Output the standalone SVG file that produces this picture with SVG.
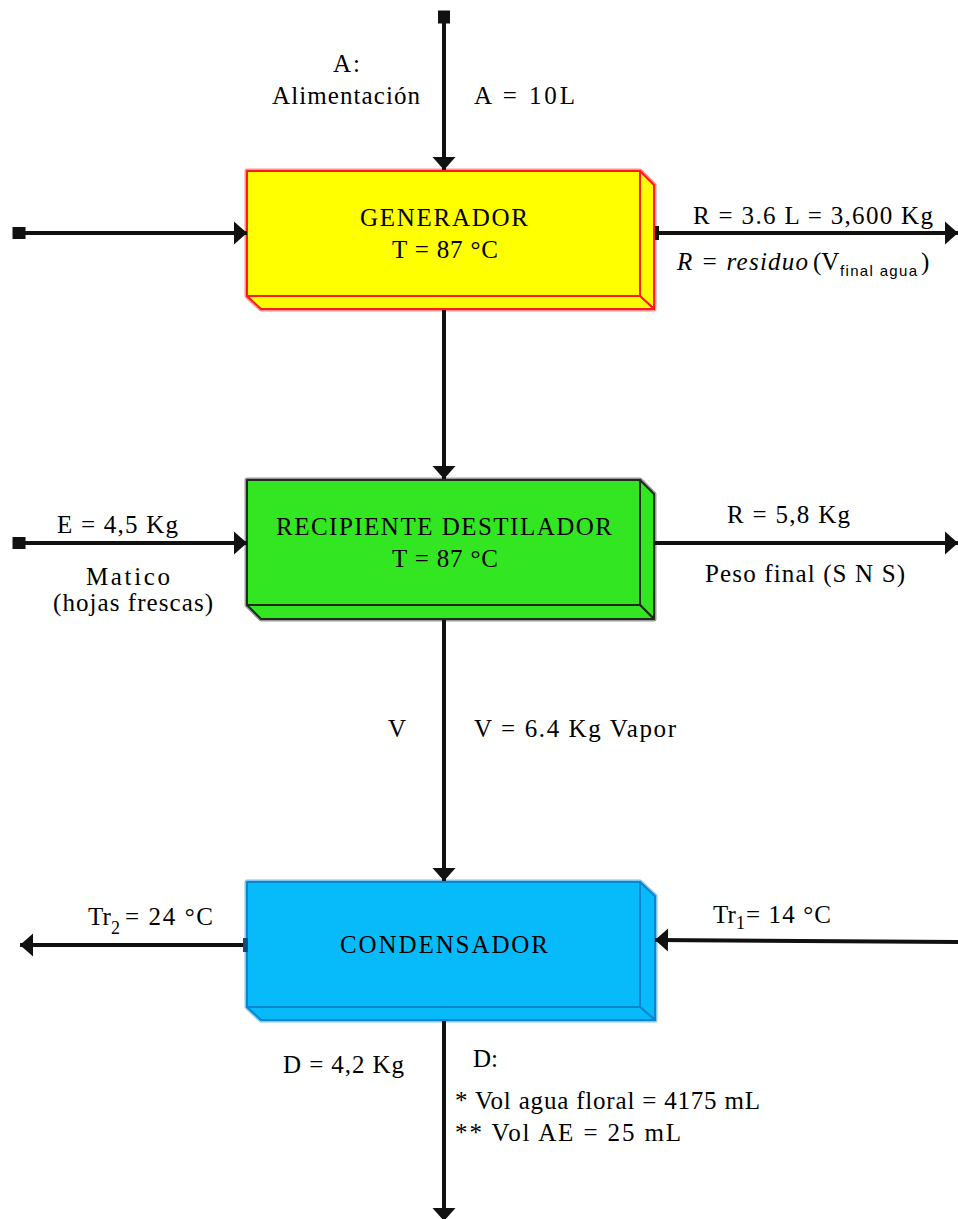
<svg xmlns="http://www.w3.org/2000/svg" width="958" height="1219" viewBox="0 0 958 1219">
<style>
.t{font-family:"Liberation Serif","DejaVu Serif","Times New Roman",serif;font-size:25px;fill:#000}
.sans{font-family:"Liberation Sans",Arial,sans-serif;font-size:15px}
.it{font-style:italic}
.conn{stroke:#111;stroke-width:4;fill:none}
.gen{fill:#FFFF00;stroke:#FF1A1A;stroke-width:2;stroke-linejoin:round}
.genh{fill:none;stroke:#FF9090;stroke-width:5;stroke-linejoin:round}
.rec{fill:#33E622;stroke:#1E2A1E;stroke-width:2;stroke-linejoin:round}
.rech{fill:none;stroke:#9A9A9A;stroke-width:5;stroke-linejoin:round}
.con{fill:#07BBFB;stroke:#0A86CF;stroke-width:2;stroke-linejoin:round}
.conh{fill:none;stroke:#7FC8F0;stroke-width:5;stroke-linejoin:round}
</style>
<defs>
<marker id="ah" markerUnits="userSpaceOnUse" markerWidth="14" markerHeight="24" refX="13" refY="11.5" orient="auto" overflow="visible">
<path d="M0,0 L13,11.5 L0,23 Z" fill="#111"/>
</marker>
<marker id="sq" markerUnits="userSpaceOnUse" markerWidth="13" markerHeight="13" refX="6.5" refY="6" orient="auto" overflow="visible">
<rect x="0" y="0" width="13" height="12" fill="#111"/>
</marker>
</defs>

<g id="generador" font-family="Liberation Serif, DejaVu Serif, serif" font-size="25">
<path class="genh" d="M247,171 H640 L654,185 V309 H261 L247,296 Z"/>
<path class="gen" d="M640,171 L654,185 V309 L640,296 Z"/>
<path class="gen" d="M247,296 H640 L654,309 H261 Z"/>
<rect class="gen" x="247" y="171" width="393" height="125"/>
<text class="t" x="360" y="226" textLength="168" lengthAdjust="spacing">GENERADOR</text>
<text class="t" x="392" y="258" textLength="106" lengthAdjust="spacing">T = 87 °C</text>
</g>

<g id="recipiente" font-family="Liberation Serif, DejaVu Serif, serif" font-size="25">
<path class="rech" d="M247,480 H640 L654,494 V619 H261 L247,605 Z"/>
<path class="rec" d="M640,480 L654,494 V619 L640,605 Z"/>
<path class="rec" d="M247,605 H640 L654,619 H261 Z"/>
<rect class="rec" x="247" y="480" width="393" height="125"/>
<text class="t" x="276" y="535" textLength="336" lengthAdjust="spacing">RECIPIENTE DESTILADOR</text>
<text class="t" x="392" y="567" textLength="106" lengthAdjust="spacing">T = 87 °C</text>
</g>

<g id="condensador" font-family="Liberation Serif, DejaVu Serif, serif" font-size="25">
<path class="conh" d="M247,882 H640 L655,896 V1020 H261 L247,1007 Z"/>
<path class="con" d="M640,882 L655,896 V1020 L640,1007 Z"/>
<path class="con" d="M247,1007 H640 L655,1020 H261 Z"/>
<rect class="con" x="247" y="882" width="393" height="125"/>
<text class="t" x="340" y="953" textLength="208" lengthAdjust="spacing">CONDENSADOR</text>
</g>

<g id="connectors">
<path class="conn" d="M444,17 V170" marker-start="url(#sq)" marker-end="url(#ah)"/>
<path class="conn" d="M19,233 H247" marker-start="url(#sq)" marker-end="url(#ah)"/>
<path class="conn" d="M656,233 H958" marker-end="url(#ah)"/>
<rect x="655" y="226" width="4" height="14" fill="#111"/>
<path class="conn" d="M444,310 V479" marker-end="url(#ah)"/>
<path class="conn" d="M19,543 H247" marker-start="url(#sq)" marker-end="url(#ah)"/>
<path class="conn" d="M655,543 H958" marker-end="url(#ah)"/>
<path class="conn" d="M444,620 V881" marker-end="url(#ah)"/>
<path class="conn" d="M246,945 H20" marker-end="url(#ah)"/>
<rect x="243" y="938" width="5" height="14" fill="#0A4F80"/>
<path class="conn" d="M958,942 L655,940" marker-end="url(#ah)"/>
<path class="conn" d="M444,1021 V1221" marker-end="url(#ah)"/>
</g>

<g id="labels" font-family="Liberation Serif, DejaVu Serif, serif" font-size="25">
<text class="t" x="333" y="72" textLength="27" lengthAdjust="spacing">A:</text>
<text class="t" x="272" y="104" textLength="148" lengthAdjust="spacing">Alimentación</text>
<text class="t" x="474" y="104" textLength="101" lengthAdjust="spacing">A = 10L</text>
<text class="t" x="693" y="224" textLength="240" lengthAdjust="spacing">R = 3.6 L = 3,600 Kg</text>
<text class="t" y="270"><tspan x="677" class="it" textLength="131" lengthAdjust="spacing">R = residuo</tspan><tspan x="813">(V</tspan><tspan x="840" y="276" class="sans" textLength="77" lengthAdjust="spacing">final agua</tspan><tspan x="921" y="270">)</tspan></text>
<text class="t" x="57" y="533" textLength="121" lengthAdjust="spacing">E = 4,5 Kg</text>
<text class="t" x="86" y="585" textLength="84" lengthAdjust="spacing">Matico</text>
<text class="t" x="53" y="611" textLength="160" lengthAdjust="spacing">(hojas frescas)</text>
<text class="t" x="727" y="523" textLength="123" lengthAdjust="spacing">R = 5,8 Kg</text>
<text class="t" x="705" y="582" textLength="200" lengthAdjust="spacing">Peso final (S N S)</text>
<text class="t" x="388" y="737">V</text>
<text class="t" x="474" y="737" textLength="202" lengthAdjust="spacing">V = 6.4 Kg Vapor</text>
<text class="t" y="925"><tspan x="88">Tr</tspan><tspan x="111" y="934" font-size="18">2</tspan><tspan x="125" y="925" textLength="88" lengthAdjust="spacing">= 24 °C</tspan></text>
<text class="t" y="923"><tspan x="713">Tr</tspan><tspan x="736" y="929" font-size="18">1</tspan><tspan x="746" y="923" textLength="85" lengthAdjust="spacing">= 14 °C</tspan></text>
<text class="t" x="283" y="1073" textLength="121" lengthAdjust="spacing">D = 4,2 Kg</text>
<text class="t" x="473" y="1067">D:</text>
<text class="t" x="455" y="1109" textLength="305" lengthAdjust="spacing">* Vol agua floral = 4175 mL</text>
<text class="t" x="455" y="1141" textLength="226" lengthAdjust="spacing">** Vol AE = 25 mL</text>
</g>
</svg>
